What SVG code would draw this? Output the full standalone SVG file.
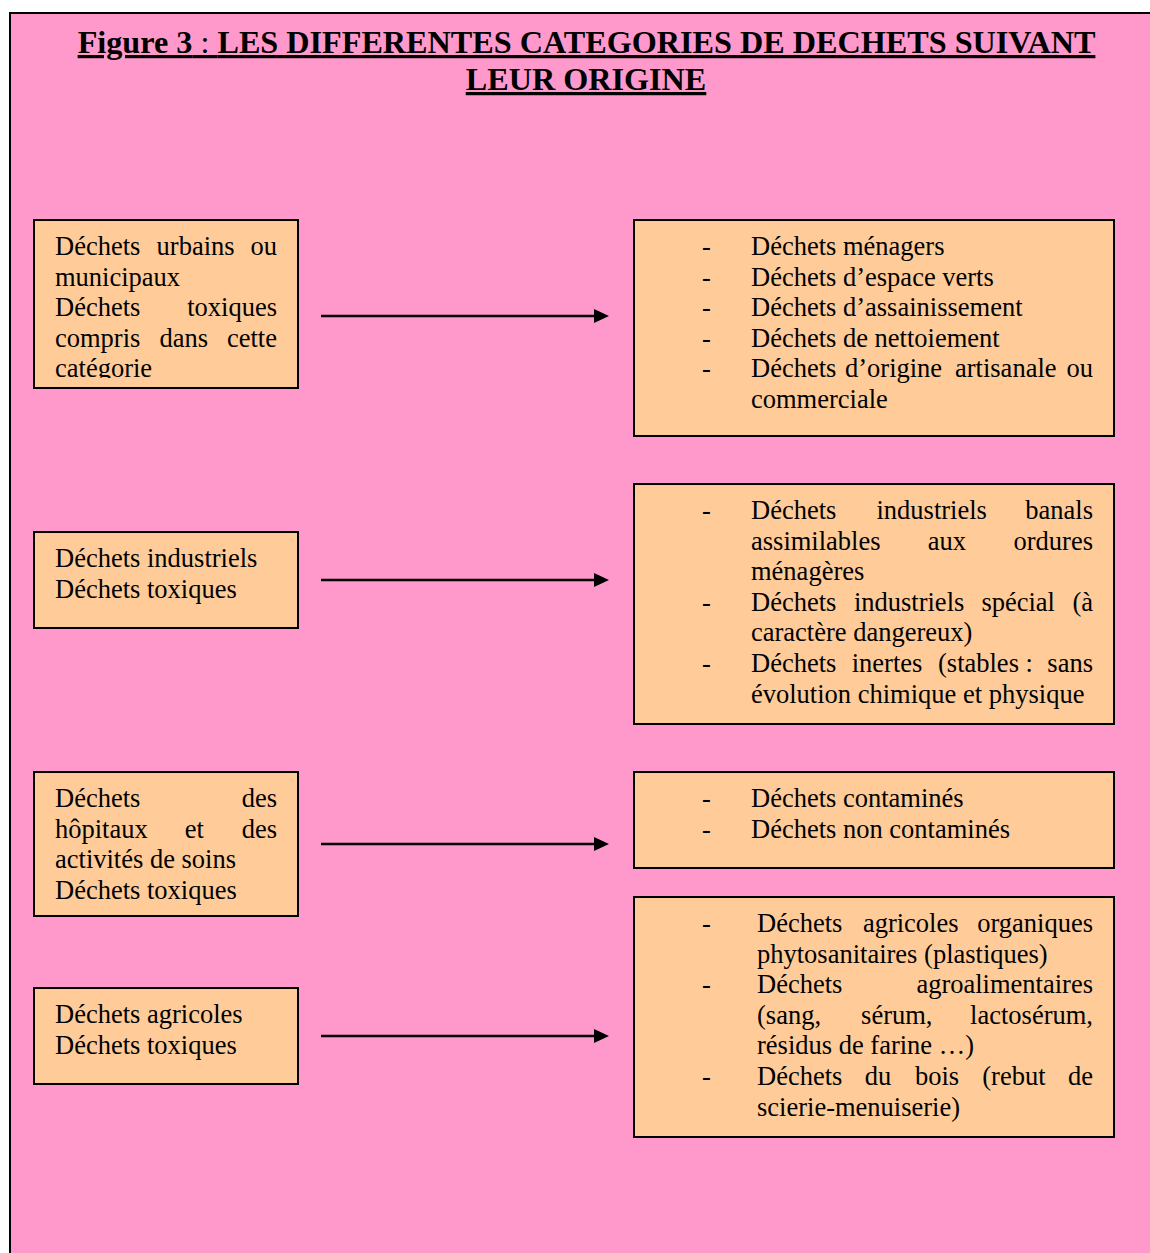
<svg xmlns="http://www.w3.org/2000/svg" width="1150" height="1253" viewBox="0 0 1150 1253">
<style>
.frame{fill:#FF99CC;stroke:#000;stroke-width:2}
.box{fill:#FFCC99;stroke:#000;stroke-width:2}
.t{font-family:"Liberation Serif","Times New Roman",serif;font-size:26.5px;fill:#000}
.title{font-family:"Liberation Serif","Times New Roman",serif;font-size:32.2px;font-weight:bold;fill:#000;text-anchor:middle;text-decoration:underline}
.conn{stroke:#000;stroke-width:2.5;fill:none}
</style>
<defs>
<marker id="ah" markerUnits="userSpaceOnUse" markerWidth="16" markerHeight="16" refX="0" refY="7" orient="auto">
<path d="M0,0 L15,7 L0,14 z" fill="#000"/>
</marker>
<clipPath id="c1"><rect x="34" y="220" width="264" height="158"/></clipPath>
</defs>
<rect width="1150" height="1253" fill="#fff"/>
<rect class="frame" x="10" y="13" width="1160" height="1300"/>
<g id="title">
<text class="title" x="586.5" y="53">Figure 3<tspan font-weight="normal"> : </tspan>LES DIFFERENTES CATEGORIES DE DECHETS SUIVANT</text>
<text class="title" x="586" y="90">LEUR ORIGINE</text>
</g>
<g id="connectors">
<line class="conn" x1="321" y1="316" x2="594" y2="316" marker-end="url(#ah)"/>
<line class="conn" x1="321" y1="580" x2="594" y2="580" marker-end="url(#ah)"/>
<line class="conn" x1="321" y1="844" x2="594" y2="844" marker-end="url(#ah)"/>
<line class="conn" x1="321" y1="1036" x2="594" y2="1036" marker-end="url(#ah)"/>
</g>
<g id="urbains">
<rect class="box" x="34" y="220" width="264" height="168"/>
<g clip-path="url(#c1)">
<text class="t" y="255"><tspan x="55">Déchets</tspan><tspan x="156.6">urbains</tspan><tspan x="277" text-anchor="end">ou</tspan></text>
<text class="t" x="55" y="285.6">municipaux</text>
<text class="t" y="316.2"><tspan x="55">Déchets</tspan><tspan x="277" text-anchor="end">toxiques</tspan></text>
<text class="t" y="346.8"><tspan x="55">compris</tspan><tspan x="159.5">dans</tspan><tspan x="277" text-anchor="end">cette</tspan></text>
<text class="t" x="55" y="377.4">catégorie</text>
</g>
</g>
<g id="urbains-list">
<rect class="box" x="634" y="220" width="480" height="216"/>
<text class="t" x="702" y="255">-</text><text class="t" x="751" y="255">Déchets ménagers</text>
<text class="t" x="702" y="285.6">-</text><text class="t" x="751" y="285.6">Déchets d’espace verts</text>
<text class="t" x="702" y="316.2">-</text><text class="t" x="751" y="316.2">Déchets d’assainissement</text>
<text class="t" x="702" y="346.8">-</text><text class="t" x="751" y="346.8">Déchets de nettoiement</text>
<text class="t" x="702" y="377.4">-</text><text class="t" y="377.4"><tspan x="751">Déchets</tspan><tspan x="845">d’origine</tspan><tspan x="955">artisanale</tspan><tspan x="1093" text-anchor="end">ou</tspan></text>
<text class="t" x="751" y="408">commerciale</text>
</g>
<g id="industriels">
<rect class="box" x="34" y="532" width="264" height="96"/>
<text class="t" x="55" y="567">Déchets industriels</text>
<text class="t" x="55" y="597.6">Déchets toxiques</text>
</g>
<g id="industriels-list">
<rect class="box" x="634" y="484" width="480" height="240"/>
<text class="t" x="702" y="519">-</text><text class="t" y="519"><tspan x="751">Déchets</tspan><tspan x="876.5">industriels</tspan><tspan x="1093" text-anchor="end">banals</tspan></text>
<text class="t" y="549.6"><tspan x="751">assimilables</tspan><tspan x="927.8">aux</tspan><tspan x="1093" text-anchor="end">ordures</tspan></text>
<text class="t" x="751" y="580.2">ménagères</text>
<text class="t" x="702" y="610.8">-</text><text class="t" y="610.8"><tspan x="751">Déchets</tspan><tspan x="853.9">industriels</tspan><tspan x="981.4">spécial</tspan><tspan x="1093" text-anchor="end">(à</tspan></text>
<text class="t" x="751" y="641.4">caractère dangereux)</text>
<text class="t" x="702" y="672">-</text><text class="t" y="672"><tspan x="751">Déchets</tspan><tspan x="851.7">inertes</tspan><tspan x="938">(stables&#160;:</tspan><tspan x="1093" text-anchor="end">sans</tspan></text>
<text class="t" x="751" y="702.6">évolution chimique et physique</text>
</g>
<g id="hopitaux">
<rect class="box" x="34" y="772" width="264" height="144"/>
<text class="t" y="807"><tspan x="55">Déchets</tspan><tspan x="277" text-anchor="end">des</tspan></text>
<text class="t" y="837.6"><tspan x="55">hôpitaux</tspan><tspan x="184.8">et</tspan><tspan x="277" text-anchor="end">des</tspan></text>
<text class="t" x="55" y="868.2">activités de soins</text>
<text class="t" x="55" y="898.8">Déchets toxiques</text>
</g>
<g id="hopitaux-list">
<rect class="box" x="634" y="772" width="480" height="96"/>
<text class="t" x="702" y="807">-</text><text class="t" x="751" y="807">Déchets contaminés</text>
<text class="t" x="702" y="837.6">-</text><text class="t" x="751" y="837.6">Déchets non contaminés</text>
</g>
<g id="agricoles">
<rect class="box" x="34" y="988" width="264" height="96"/>
<text class="t" x="55" y="1023">Déchets agricoles</text>
<text class="t" x="55" y="1053.6">Déchets toxiques</text>
</g>
<g id="agricoles-list">
<rect class="box" x="634" y="897" width="480" height="240"/>
<text class="t" x="702" y="932">-</text><text class="t" y="932"><tspan x="757">Déchets</tspan><tspan x="862.9">agricoles</tspan><tspan x="1093" text-anchor="end">organiques</tspan></text>
<text class="t" x="757" y="962.6">phytosanitaires (plastiques)</text>
<text class="t" x="702" y="993.2">-</text><text class="t" y="993.2"><tspan x="757">Déchets</tspan><tspan x="1093" text-anchor="end">agroalimentaires</tspan></text>
<text class="t" y="1023.8"><tspan x="757">(sang,</tspan><tspan x="861.1">sérum,</tspan><tspan x="1093" text-anchor="end">lactosérum,</tspan></text>
<text class="t" x="757" y="1054.4">résidus de farine …)</text>
<text class="t" x="702" y="1085">-</text><text class="t" y="1085"><tspan x="757">Déchets</tspan><tspan x="864.8">du</tspan><tspan x="914.9">bois</tspan><tspan x="982.3">(rebut</tspan><tspan x="1093" text-anchor="end">de</tspan></text>
<text class="t" x="757" y="1115.6">scierie-menuiserie)</text>
</g>
</svg>
